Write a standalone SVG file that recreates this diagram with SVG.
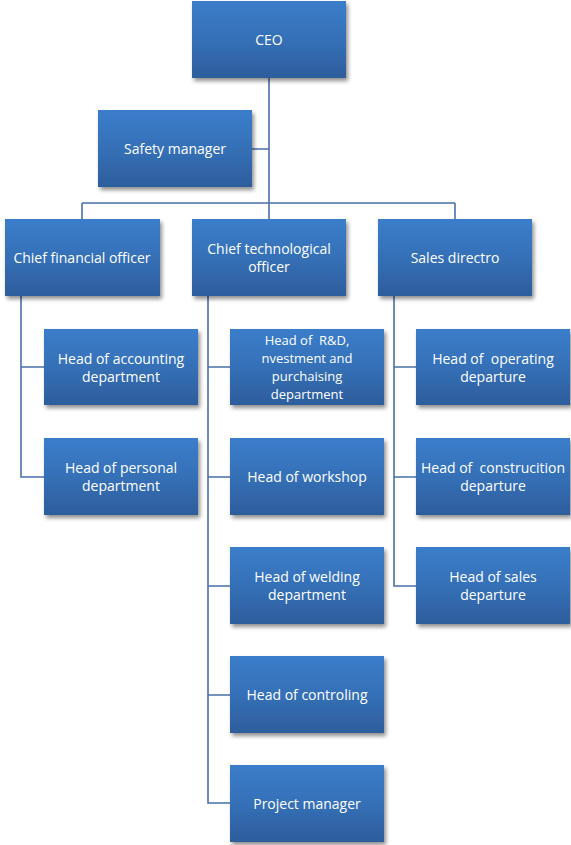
<svg xmlns="http://www.w3.org/2000/svg" width="571" height="845" viewBox="0 0 571 845">
<defs>
<linearGradient id="g" x1="0" y1="0" x2="0" y2="1">
<stop offset="0" stop-color="#3b7dcb"/>
<stop offset="0.5" stop-color="#3570b7"/>
<stop offset="1" stop-color="#2d5d9c"/>
</linearGradient>
<filter id="sh" x="-10%" y="-10%" width="125%" height="130%">
<feGaussianBlur in="SourceAlpha" stdDeviation="2"/>
<feOffset dx="2" dy="3"/>
<feComponentTransfer><feFuncA type="linear" slope="0.45"/></feComponentTransfer>
<feMerge><feMergeNode/><feMergeNode in="SourceGraphic"/></feMerge>
</filter>
</defs>
<style>
.box{fill:url(#g);filter:url(#sh)}
.t{fill:#ffffff;font-family:"Open Sans","Noto Sans",sans-serif;font-size:14px;text-anchor:middle}
.s{font-size:13px}
.c{fill:none;stroke:#4a70a8;stroke-width:1.6}
</style>
<rect width="571" height="845" fill="#ffffff"/>
<g id="connectors">
<path class="c" d="M269 78V203M252 149H269M82 203H455M82 203V219M269 203V219M455 203V219"/>
<path class="c" d="M21 296V477H44M21 367H44"/>
<path class="c" d="M208 296V803H230M208 367H230M208 477H230M208 586H230M208 695H230"/>
<path class="c" d="M394 296V586H416M394 367H416M394 477H416"/>
</g>
<g id="ceo"><rect class="box" x="192" y="1" width="154" height="77"/><text class="t" x="269" y="45">CEO</text></g>
<g id="safety"><rect class="box" x="98" y="110" width="154" height="77"/><text class="t" x="175" y="154">Safety manager</text></g>
<g id="cfo"><rect class="box" x="5" y="219" width="155" height="77"/><text class="t" x="82" y="263">Chief financial officer</text></g>
<g id="cto"><rect class="box" x="192" y="219" width="154" height="77"/><text class="t" x="269" y="254">Chief technological</text><text class="t" x="269" y="272">officer</text></g>
<g id="sales"><rect class="box" x="378" y="219" width="154" height="77"/><text class="t" x="455" y="263">Sales directro</text></g>
<g id="accounting"><rect class="box" x="44" y="329" width="154" height="76"/><text class="t" x="121" y="364">Head of accounting</text><text class="t" x="121" y="382">department</text></g>
<g id="personal"><rect class="box" x="44" y="438" width="154" height="77"/><text class="t" x="121" y="473">Head of personal</text><text class="t" x="121" y="491">department</text></g>
<g id="rnd"><rect class="box" x="230" y="329" width="154" height="76"/><text class="t s" x="307" y="345" xml:space="preserve">Head of  R&amp;D,</text><text class="t s" x="307" y="363">nvestment and</text><text class="t s" x="307" y="381">purchaising</text><text class="t s" x="307" y="399">department</text></g>
<g id="workshop"><rect class="box" x="230" y="438" width="154" height="77"/><text class="t" x="307" y="482">Head of workshop</text></g>
<g id="welding"><rect class="box" x="230" y="547" width="154" height="77"/><text class="t" x="307" y="582">Head of welding</text><text class="t" x="307" y="600">department</text></g>
<g id="controling"><rect class="box" x="230" y="656" width="154" height="77"/><text class="t" x="307" y="700">Head of controling</text></g>
<g id="pm"><rect class="box" x="230" y="765" width="154" height="77"/><text class="t" x="307" y="809">Project manager</text></g>
<g id="operating"><rect class="box" x="416" y="329" width="154" height="76"/><text class="t" x="493" y="364" xml:space="preserve">Head of  operating</text><text class="t" x="493" y="382">departure</text></g>
<g id="construction"><rect class="box" x="416" y="438" width="154" height="77"/><text class="t" x="493" y="473" xml:space="preserve">Head of  construcition</text><text class="t" x="493" y="491">departure</text></g>
<g id="salesdep"><rect class="box" x="416" y="547" width="154" height="77"/><text class="t" x="493" y="582">Head of sales</text><text class="t" x="493" y="600">departure</text></g>
</svg>
